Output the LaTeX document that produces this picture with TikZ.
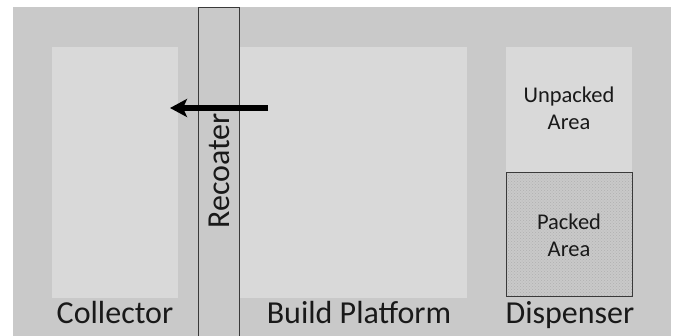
\documentclass[tikz,border=0pt]{standalone}
\usepackage{fontspec}
\setmainfont{Carlito}
\usetikzlibrary{arrows.meta,patterns}
\definecolor{outergray}{HTML}{C9C9C9}
\definecolor{innergray}{HTML}{D9D9D9}
\definecolor{edgegray}{HTML}{3A3A3A}
\definecolor{hatchgray}{HTML}{B0B0B0}
\definecolor{packgray}{HTML}{D0D0D0}
\tikzset{
  area/.style={fill=innergray, draw=none},
  biglabel/.style={font=\fontsize{32}{38}\selectfont, anchor=base, inner sep=0pt, text=black!90},
  smalllabel/.style={font=\fontsize{22.5}{27}\selectfont, align=center, inner sep=0pt, text=black!90},
  movearrow/.style={line width=6pt, -{Stealth[length=17pt,width=18pt,inset=4pt]}}
}
\begin{document}
\begin{tikzpicture}[x=1pt,y=-1pt]
\useasboundingbox (0,0) rectangle (679,336);
\fill[white] (0,0) rectangle (679,336);
% outer machine body
\fill[outergray] (13,7) rectangle (671,336);
\node[area, minimum width=126pt, minimum height=251pt, inner sep=0pt] (collector) at (115,172.5) {};
\node[area, minimum width=227pt, minimum height=251pt, inner sep=0pt] (platform) at (353.5,172.5) {};
\node[area, minimum width=126pt, minimum height=125.5pt, inner sep=0pt] (unpacked) at (569,109.75) {};
\node[smalllabel] (unpackedtext) at (569,108) {Unpacked\\Area};
\node[minimum width=126pt, minimum height=124pt, inner sep=0pt, fill=packgray, pattern=crosshatch dots, pattern color=hatchgray, draw=edgegray, line width=1pt] (packed) at (569,234.7) {};
\node[smalllabel] (packedtext) at (569,235) {Packed\\Area};
% recoater bar
\node[minimum width=41pt, minimum height=328pt, inner sep=0pt, fill=outergray, draw=edgegray, line width=1pt] (recoater) at (218.5,172) {};
\node[font=\fontsize{32}{38}\selectfont, rotate=90, inner sep=0pt, text=black!90] (recoatertext) at (219,171) {Recoater};
% motion arrow
\coordinate (arrowstart) at (268,108);
\coordinate (arrowend) at (170,108);
\draw[movearrow] (arrowstart) -- (arrowend);
% labels
\node[biglabel] (collectorlabel) at (115,323) {Collector};
\node[biglabel] (platformlabel) at (359,323) {Build Platform};
\node[biglabel] (dispenserlabel) at (570,323) {Dispenser};
\end{tikzpicture}
\end{document}
